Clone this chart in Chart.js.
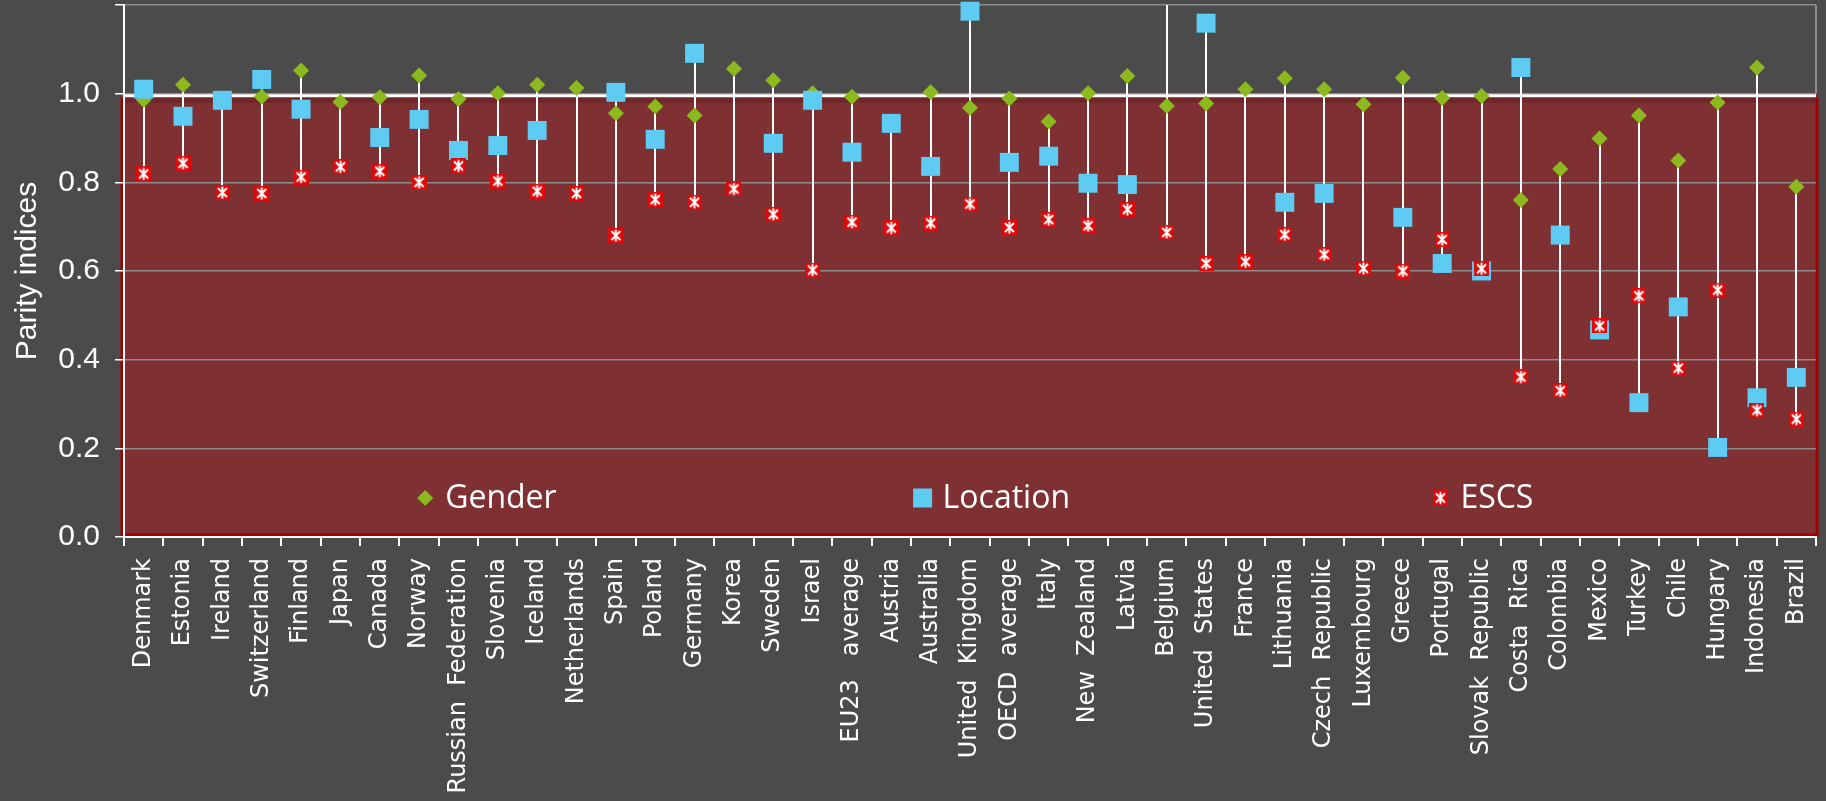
<!DOCTYPE html>
<html>
<head>
<meta charset="utf-8">
<script src="https://cdn.jsdelivr.net/npm/chart.js@4.4.1/dist/chart.umd.min.js"></script>
<style>
    html, body { margin: 0; padding: 0; background: #4b4b4b; }
    #wrap { width: 1826px; height: 801px; }
</style>
</head>
<body>
<div id="wrap"><canvas id="chart"></canvas></div>
<script>
const countries = ['Denmark', 'Estonia', 'Ireland', 'Switzerland', 'Finland', 'Japan', 'Canada', 'Norway',
    'Russian  Federation', 'Slovenia', 'Iceland', 'Netherlands', 'Spain', 'Poland', 'Germany', 'Korea',
    'Sweden', 'Israel', 'EU23   average', 'Austria', 'Australia', 'United  Kingdom', 'OECD  average', 'Italy',
    'New  Zealand', 'Latvia', 'Belgium', 'United  States', 'France', 'Lithuania', 'Czech  Republic',
    'Luxembourg', 'Greece', 'Portugal', 'Slovak  Republic', 'Costa  Rica', 'Colombia', 'Mexico', 'Turkey',
    'Chile', 'Hungary', 'Indonesia', 'Brazil'];

const gender = [0.986, 1.020, 0.984, 0.993, 1.052, 0.981, 0.992, 1.041, 0.988, 1.001, 1.020, 1.013, 0.956,
    0.971, 0.951, 1.056, 1.030, 1.001, 0.993, null, 1.003, 0.968, 0.989, 0.937, 1.001, 1.040, 0.972, 0.978,
    1.010, 1.035, 1.010, 0.976, 1.036, 0.990, 0.995, 0.760, 0.830, 0.899, 0.951, 0.849, 0.980, 1.059, 0.790];

const locationIdx = [1.010, 0.949, 0.985, 1.032, 0.965, null, 0.901, 0.942, 0.872, 0.883, 0.917, null, 1.003,
    0.897, 1.091, null, 0.888, 0.985, 0.868, 0.933, 0.836, 1.186, 0.845, 0.859, 0.798, 0.795, 1.30, 1.159,
    null, 0.755, 0.775, null, 0.721, 0.617, 0.600, 1.059, 0.681, 0.467, 0.303, 0.519, 0.202, 0.314, 0.360];

const escs = [0.819, 0.843, 0.777, 0.775, 0.812, 0.835, 0.825, 0.800, 0.837, 0.803, 0.780, 0.775, 0.680,
    0.761, 0.755, 0.785, 0.728, 0.602, 0.710, 0.697, 0.708, 0.751, 0.698, 0.716, 0.702, 0.739, 0.687, 0.617,
    0.621, 0.682, 0.637, 0.606, 0.600, 0.671, 0.605, 0.361, 0.330, 0.476, 0.544, 0.381, 0.557, 0.286, 0.266];

const yMin = 0;
const yMax = 1.2;
const yStep = 0.2;
const lastLabelled = 1.0;   // no label on the top gridline
const parityLine = 1.0;     // the shaded band runs up to parity

const GREEN = '#8cba1e';
const BLUE = '#5ecbf3';
const RED = '#dc0a0a';
const BG = '#4b4b4b';

// red square with a white asterisk for the ESCS marker
function makeEscsIcon(size) {
    const c = document.createElement('canvas');
    c.width = size; c.height = size;
    const g = c.getContext('2d');
    g.fillStyle = RED;
    g.fillRect(0, 0, size, size);
    g.strokeStyle = '#fff';
    g.lineWidth = 2;
    const m = size / 2, a = 3, b = size - 3;
    g.beginPath();
    g.moveTo(a, a); g.lineTo(b, b);
    g.moveTo(b, a); g.lineTo(a, b);
    g.moveTo(m, 1.5); g.lineTo(m, size - 1.5);
    g.stroke();
    return c;
}
const escsIcon = makeEscsIcon(15);

const backdrop = {
    id: 'backdrop',
    beforeDraw(chart) {
        const { ctx, chartArea: { left, right, bottom } } = chart;
        const y = chart.scales.y;
        const yTop = y.getPixelForValue(parityLine);
        ctx.save();
        ctx.fillStyle = BG;
        ctx.fillRect(0, 0, chart.width, chart.height);
        ctx.fillStyle = '#7e3032';
        ctx.fillRect(left - 3, yTop, right - left + 5, bottom - yTop);
        ctx.fillStyle = '#6f272a';
        ctx.fillRect(left, yTop + 3, right - left, 6);
        ctx.strokeStyle = '#a30000';
        ctx.lineWidth = 3;
        ctx.beginPath();
        ctx.moveTo(left - 2, yTop + 4);
        ctx.lineTo(left - 2, bottom - 2);
        ctx.lineTo(right + 1, bottom - 2);
        ctx.lineTo(right + 1, yTop + 4);
        ctx.stroke();
        ctx.restore();
    }
};

// white parity line plus the range line joining each country's markers
const ranges = {
    id: 'ranges',
    beforeDatasetsDraw(chart) {
        const { ctx, chartArea } = chart;
        const x = chart.scales.x, y = chart.scales.y;
        ctx.save();
        const yp = y.getPixelForValue(parityLine);
        ctx.strokeStyle = '#ffffff';
        ctx.lineWidth = 3;
        ctx.beginPath();
        ctx.moveTo(chartArea.left, yp + 2);
        ctx.lineTo(chartArea.right, yp + 2);
        ctx.stroke();

        ctx.strokeStyle = '#a0a0a0';
        ctx.lineWidth = 1.5;
        ctx.beginPath();
        ctx.moveTo(chartArea.right, chartArea.top);
        ctx.lineTo(chartArea.right, yp);
        ctx.stroke();

        ctx.strokeStyle = '#ffffff';
        ctx.lineWidth = 2;
        countries.forEach((c, i) => {
            const vals = [gender[i], locationIdx[i], escs[i]].filter(v => v != null);
            if (vals.length < 2) return;
            const px = Math.round(x.getPixelForValue(i));
            const top = Math.max(y.getPixelForValue(Math.max(...vals)), chartArea.top);
            const bot = y.getPixelForValue(Math.min(...vals));
            ctx.beginPath();
            ctx.moveTo(px, top);
            ctx.lineTo(px, bot);
            ctx.stroke();
        });
        ctx.restore();
    }
};

// legend sits inside the plot, along the bottom of the band
const legendSpots = [0.178, 0.472, 0.778];
const legendValue = 0.088;
const insideLegend = {
    id: 'insideLegend',
    afterDatasetsDraw(chart) {
        const { ctx, chartArea } = chart;
        const y = chart.scales.y.getPixelForValue(legendValue);
        ctx.save();
        ctx.font = '32px "Open Sans"';
        ctx.textBaseline = 'middle';
        ctx.fillStyle = '#ffffff';
        chart.data.datasets.forEach((ds, i) => {
            const mx = chartArea.left + legendSpots[i] * (chartArea.right - chartArea.left);
            if (ds.label === 'Gender') {
                ctx.fillStyle = GREEN;
                ctx.beginPath();
                ctx.moveTo(mx, y - 8); ctx.lineTo(mx + 8, y); ctx.lineTo(mx, y + 8); ctx.lineTo(mx - 8, y);
                ctx.closePath();
                ctx.fill();
            } else if (ds.label === 'Location') {
                ctx.fillStyle = BLUE;
                ctx.fillRect(mx - 9.5, y - 9.5, 19, 19);
            } else {
                ctx.drawImage(escsIcon, mx - 7.5, y - 7.5);
            }
            ctx.fillStyle = '#ffffff';
            ctx.fillText(ds.label, mx + 20, y + 1);
        });
        ctx.restore();
    }
};

const ctx = document.getElementById('chart').getContext('2d');
const chart = new Chart(ctx, {
    type: 'line',
    data: {
        labels: countries,
        datasets: [{
            label: 'Gender',
            data: gender,
            showLine: false,
            pointStyle: 'rectRot',
            pointRadius: 8,
            pointBackgroundColor: GREEN,
            pointBorderWidth: 0,
            clip: false,
            order: 3
        }, {
            label: 'Location',
            data: locationIdx,
            showLine: false,
            pointStyle: 'rect',
            pointRadius: 13.4,
            pointBackgroundColor: BLUE,
            pointBorderWidth: 0,
            clip: false,
            order: 2
        }, {
            label: 'ESCS',
            data: escs,
            showLine: false,
            pointStyle: escsIcon,
            pointRadius: 8,
            clip: false,
            order: 1
        }]
    },
    options: {
        responsive: true,
        maintainAspectRatio: false,
        animation: false,
        events: [],
        layout: { autoPadding: false, padding: { top: 5, right: 10, left: 0, bottom: 0 } },
        plugins: {
            legend: { display: false },
            tooltip: { enabled: false }
        },
        scales: {
            x: {
                offset: true,
                ticks: {
                    color: '#ffffff',
                    font: { family: 'DejaVu Sans', size: 24 },
                    minRotation: 90,
                    maxRotation: 90,
                    autoSkip: false,
                    padding: 12
                },
                grid: {
                    offset: true,
                    drawOnChartArea: false,
                    tickColor: '#ffffff',
                    tickLength: 9,
                    lineWidth: 2
                },
                border: { color: '#ffffff', width: 2 },
                afterFit: s => {
                    s.height = 264;
                    s.paddingLeft = 0;
                    s.paddingRight = 0;
                }
            },
            y: {
                min: yMin,
                max: yMax,
                ticks: {
                    stepSize: yStep,
                    color: '#ffffff',
                    font: { family: 'Liberation Sans', size: 30 },
                    padding: 15,
                    callback: v => (v > lastLabelled + 0.01 ? '' : Number(v).toFixed(1))
                },
                grid: {
                    color: '#8c8c8c',
                    lineWidth: 1.5,
                    tickColor: '#ffffff',
                    tickLength: 9
                },
                border: { color: '#ffffff', width: 2 },
                title: {
                    display: true,
                    text: 'Parity indices',
                    color: '#ffffff',
                    font: { family: 'Liberation Sans', size: 30 },
                    padding: { top: 10, bottom: 0 }
                },
                afterFit: s => {
                    s.width = 124;
                    s.paddingTop = 0;
                    s.paddingBottom = 0;
                }
            }
        }
    },
    plugins: [backdrop, ranges, insideLegend]
});
</script>
</body>
</html>
